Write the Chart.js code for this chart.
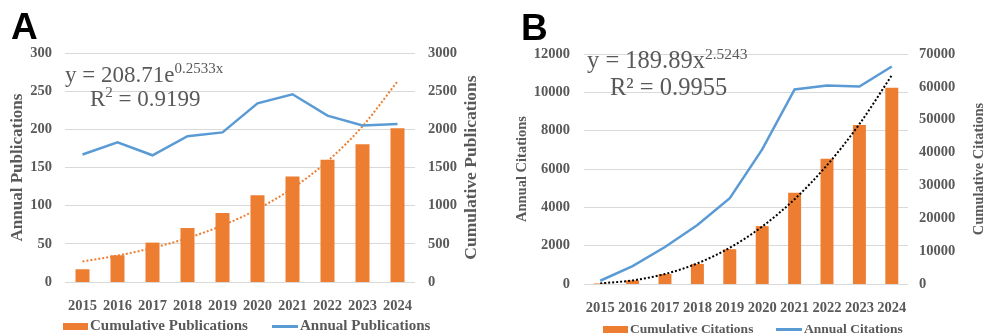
<!DOCTYPE html>
<html>
<head>
<meta charset="utf-8">
<script src="https://cdn.jsdelivr.net/npm/chart.js@4.4.1/dist/chart.umd.min.js"></script>
<style>
  html, body { margin: 0; padding: 0; background: #fff; }
  #wrap { position: relative; width: 985px; height: 336px; overflow: hidden; }
  .panel { position: absolute; top: 0; height: 336px; }
  #pA { left: 0; width: 490px; }
  #pB { left: 490px; width: 495px; }
</style>
</head>
<body>
<div id="wrap">
  <div class="panel" id="pA"><canvas id="cA"></canvas></div>
  <div class="panel" id="pB"><canvas id="cB"></canvas></div>
</div>
<script>
// Years on the x axis (both panels)
const years = ['2015', '2016', '2017', '2018', '2019', '2020', '2021', '2022', '2023', '2024'];

// Panel A: publications
const pubAnnual = [167, 183, 166, 191, 196, 234, 246, 218, 205, 207];
const pubCumulative = [167, 350, 516, 707, 903, 1137, 1383, 1601, 1806, 2013];
// exponential trend of cumulative publications, y = 208.71e^(0.2533x)
const pubTrend = [269, 346, 446, 575, 741, 954, 1229, 1583, 2040, 2628];
const pubLeftTicks = [0, 50, 100, 150, 200, 250, 300];
const pubRightTicks = [0, 500, 1000, 1500, 2000, 2500, 3000];

// Panel B: citations
const citAnnual = [170, 930, 1930, 3080, 4480, 7020, 10150, 10350, 10300, 11350];
const citCumulative = [170, 1100, 3030, 6110, 10590, 17610, 27760, 38110, 48410, 59760];
// power trend of cumulative citations, y = 189.89x^2.5243
const citTrend = [190, 1092, 3040, 6285, 11041, 17491, 25810, 36160, 48670, 63510];
const citLeftTicks = [0, 2000, 4000, 6000, 8000, 10000, 12000];
const citRightTicks = [0, 10000, 20000, 30000, 40000, 50000, 60000, 70000];

const SERIF = '"Liberation Serif", "Times New Roman", serif';
const GRAY = '#595959';
const ORANGE = '#ED7D31';
const BLUE = '#5B9BD5';
const GRID = '#D9D9D9';

function boldSerif(size) { return { family: SERIF, size: size, weight: 'bold' }; }
function fixedTicks(list) {
  return function (scale) { scale.ticks = list.map(v => ({ value: v })); };
}
// plain integers, no thousands separator
function plain(v) { return String(v); }

// Panel letter, trend equation, right-hand axis title and legend
const decor = {
  id: 'decor',
  afterDraw(chart, args, o) {
    const ctx = chart.ctx;
    ctx.save();
    ctx.textAlign = 'left';
    ctx.textBaseline = 'alphabetic';

    ctx.fillStyle = '#000';
    ctx.font = 'bold 37px "Liberation Sans", Arial, sans-serif';
    ctx.fillText(o.tag.text, o.tag.x, o.tag.y);

    ctx.fillStyle = GRAY;
    o.equation.forEach(line => {
      let x = line.x;
      line.parts.forEach(p => {
        ctx.font = p.size + 'px ' + SERIF;
        ctx.fillText(p.text, x, line.y - (p.rise || 0));
        x += ctx.measureText(p.text).width;
      });
    });

    const s = chart.scales.y1;
    ctx.save();
    ctx.translate(o.sideTitle.x, (s.top + s.bottom) / 2);
    ctx.rotate(-Math.PI / 2);
    ctx.textAlign = 'center';
    ctx.textBaseline = 'middle';
    ctx.font = 'bold ' + o.sideTitle.size + 'px ' + SERIF;
    ctx.fillText(o.sideTitle.text, 0, 0);
    ctx.restore();

    const lg = o.legend;
    const ds = chart.data.datasets;
    ctx.textBaseline = 'middle';
    ctx.font = 'bold ' + lg.size + 'px ' + SERIF;
    ctx.fillStyle = ds[0].backgroundColor;
    ctx.fillRect(lg.barX, lg.y - 3.5, 25, 7);
    ctx.fillStyle = GRAY;
    ctx.fillText(ds[0].label, lg.barX + 27, lg.y);
    ctx.strokeStyle = ds[1].borderColor;
    ctx.lineWidth = 3;
    ctx.beginPath();
    ctx.moveTo(lg.lineX, lg.y);
    ctx.lineTo(lg.lineX + 26, lg.y);
    ctx.stroke();
    ctx.fillText(ds[1].label, lg.lineX + 28, lg.y);
    ctx.restore();
  }
};

function makeChart(id, cfg) {
  return new Chart(document.getElementById(id), {
    plugins: [decor],
    data: {
      labels: years,
      datasets: [
        { type: 'bar', label: cfg.barLabel, data: cfg.bars, yAxisID: 'y1',
          backgroundColor: ORANGE, barPercentage: 0.4, categoryPercentage: 1, order: 3 },
        { type: 'line', label: cfg.lineLabel, data: cfg.line, yAxisID: 'y',
          borderColor: BLUE, borderWidth: 2.5, pointRadius: 0, tension: 0, order: 1 },
        { type: 'line', label: 'Trend', data: cfg.trend, yAxisID: 'y1',
          borderColor: cfg.trendColor, borderWidth: 2, borderDash: [2, 2], pointRadius: 0,
          cubicInterpolationMode: 'monotone', order: 2 }
      ]
    },
    options: {
      responsive: true,
      maintainAspectRatio: false,
      animation: false,
      layout: { padding: { top: cfg.top, left: 0, right: 0, bottom: 0 } },
      plugins: {
        legend: { display: false },
        tooltip: { enabled: false },
        decor: cfg.decor
      },
      scales: {
        x: {
          offset: true,
          grid: { display: false },
          border: { display: false },
          ticks: { font: boldSerif(14.5), color: GRAY, padding: 8, maxRotation: 0, autoSkip: false },
          afterFit(s) { s.height = cfg.xHeight; }
        },
        y: {
          position: 'left',
          min: cfg.leftTicks[0], max: cfg.leftTicks[cfg.leftTicks.length - 1],
          grid: { color: GRID, lineWidth: 1, drawTicks: false },
          border: { display: false },
          ticks: { font: boldSerif(14.5), color: GRAY, padding: cfg.leftPad, callback: plain },
          title: { display: true, text: cfg.lineLabel, font: boldSerif(cfg.titleSize), color: GRAY,
                   padding: { top: cfg.titlePad, bottom: 0 } },
          afterBuildTicks: fixedTicks(cfg.leftTicks),
          afterFit(s) { s.width = cfg.leftWidth; }
        },
        y1: {
          position: 'right',
          min: cfg.rightTicks[0], max: cfg.rightTicks[cfg.rightTicks.length - 1],
          grid: { display: false, drawTicks: false },
          border: { display: false },
          ticks: { font: boldSerif(14.5), color: GRAY, padding: cfg.rightPad, callback: plain },
          afterBuildTicks: fixedTicks(cfg.rightTicks),
          afterFit(s) { s.width = cfg.rightWidth; }
        }
      }
    }
  });
}

makeChart('cA', {
  barLabel: 'Cumulative Publications', lineLabel: 'Annual Publications',
  bars: pubCumulative, line: pubAnnual, trend: pubTrend, trendColor: ORANGE,
  leftTicks: pubLeftTicks, rightTicks: pubRightTicks,
  top: 53, xHeight: 54, leftWidth: 65, rightWidth: 75, leftPad: 13, rightPad: 13,
  titleSize: 17, titlePad: 7,
  decor: {
    tag: { text: 'A', x: 11, y: 39 },
    equation: [
      { x: 65, y: 82, parts: [{ text: 'y = 208.71e', size: 23 }, { text: '0.2533x', size: 15, rise: 9 }] },
      { x: 90, y: 106, parts: [{ text: 'R', size: 23 }, { text: '2', size: 15, rise: 9 }, { text: ' = 0.9199', size: 23 }] }
    ],
    sideTitle: { text: 'Cumulative Publications', size: 17.5, x: 471 },
    legend: { size: 15, y: 326.5, barX: 63, lineX: 272 }
  }
});

makeChart('cB', {
  barLabel: 'Cumulative Citations', lineLabel: 'Annual Citations',
  bars: citCumulative, line: citAnnual, trend: citTrend, trendColor: '#000000',
  leftTicks: citLeftTicks, rightTicks: citRightTicks,
  top: 54, xHeight: 52, leftWidth: 94, rightWidth: 77, leftPad: 14, rightPad: 11,
  titleSize: 14.5, titlePad: 24,
  decor: {
    tag: { text: 'B', x: 31, y: 40 },
    equation: [
      { x: 97, y: 68, parts: [{ text: 'y = 189.89x', size: 24.5 }, { text: '2.5243', size: 15.5, rise: 9 }] },
      { x: 120, y: 95, parts: [{ text: 'R² = 0.9955', size: 24.5 }] }
    ],
    sideTitle: { text: 'Cumulative Citations', size: 14.5, x: 489 },
    legend: { size: 13.5, y: 329.5, barX: 113, lineX: 286 }
  }
});
</script>
</body>
</html>
